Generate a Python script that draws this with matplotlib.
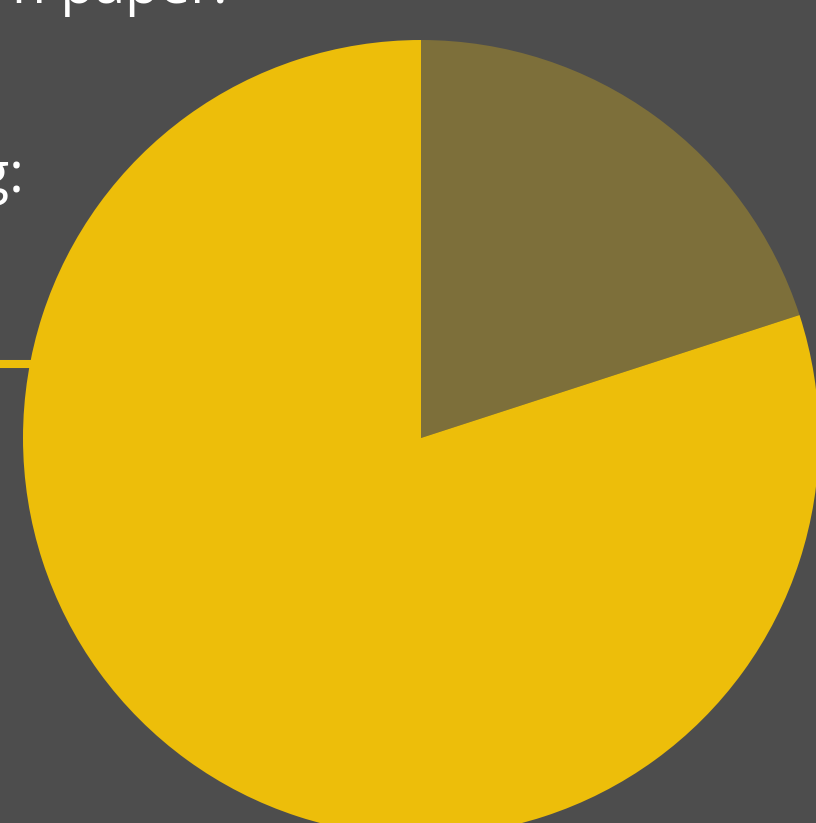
import matplotlib
matplotlib.use("Agg")
import matplotlib.pyplot as plt

labels = ["Share A", "Share B"]
values = [20, 80]
colors = ["#7D6F3A", "#EDBE0A"]
bg = "#4D4D4D"

W, H = 816, 823
fig = plt.figure(figsize=(W / 100, H / 100), dpi=100, facecolor=bg)
ax = fig.add_axes([0, 0, 1, 1])
ax.set_facecolor(bg)
ax.set_xlim(0, W)
ax.set_ylim(0, H)
ax.axis("off")

# accent line at left (partially hidden behind pie)
ax.plot([0, 60], [H - 364, H - 364], color="#EDBE0A", lw=5.8, solid_capstyle="butt", zorder=1)

ax.pie(values, colors=colors, startangle=90, counterclock=False,
       center=(421, H - 438), radius=398, frame=True,
       wedgeprops=dict(linewidth=0, zorder=2))
ax.set_xlim(0, W)
ax.set_ylim(0, H)
ax.set_aspect("auto")
ax.axis("off")

# partial slide text fragments cut off at edges
ax.text(12, H - 3, "n paper.", color="white", fontsize=40, family="Open Sans",
        ha="left", va="baseline", zorder=3)
ax.text(24, H - 192, "ng:", color="white", fontsize=40, family="Open Sans",
        ha="right", va="baseline", zorder=3)

fig.savefig("out.png", dpi=100, facecolor=bg)
